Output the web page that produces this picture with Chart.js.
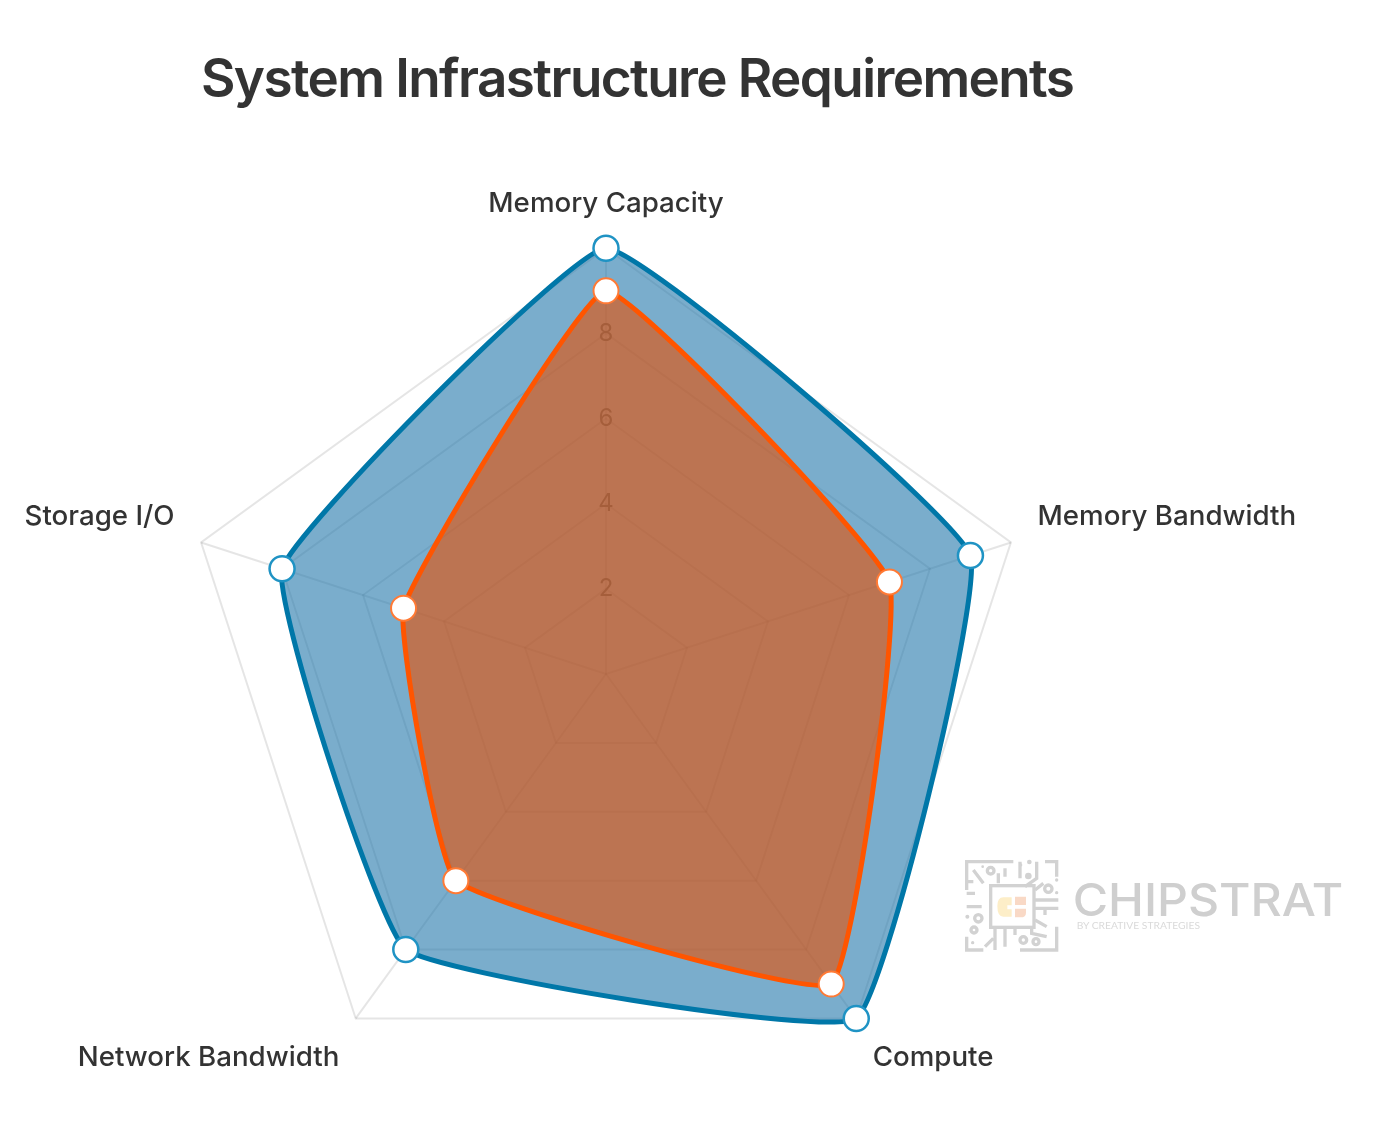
<!DOCTYPE html>
<html>
<head>
<meta charset="utf-8">
<title>System Infrastructure Requirements</title>
<script src="https://cdn.jsdelivr.net/npm/chart.js@4"></script>
<style>
  html, body { margin: 0; padding: 0; background: #fff; }
  #wrap { position: relative; width: 1374px; height: 1126px; overflow: hidden; }
  #chart { position: absolute; left: -394px; top: 0; }
  h1 {
    position: absolute; left: 201px; top: 46px; margin: 0;
    font: 600 53px/64px Inter, sans-serif; letter-spacing: -1.6px; color: #333; white-space: nowrap;
  }
  #mark { position: absolute; left: 950px; top: 840px; }
</style>
</head>
<body>
<div id="wrap">
  <canvas id="chart" width="2000" height="1200"></canvas>
  <h1>System Infrastructure Requirements</h1>
  <svg id="mark" width="410" height="130" viewBox="0 0 1230 390">
    <g fill="none" stroke="#d2d2d2" stroke-width="10">
      <rect x="122" y="137" width="130" height="125"/>
      <path d="M50 150V65H190M210 65V115M260 65V115L225 140M285 65H320V110M50 200H95M50 125H70M50 160H75M255 150L280 130M255 180H325M255 205H325M285 205V225M255 240L290 260M50 290V330H100M130 295L105 320M135 265V330M165 265V320M195 265V285M245 265V280L290 290M210 330H320V260M70 90L100 130M145 100V130M165 85V110"/>
      <circle cx="122" cy="92" r="10"/>
      <circle cx="295" cy="146" r="11"/>
      <circle cx="85" cy="235" r="11"/>
      <circle cx="72" cy="270" r="9"/>
      <circle cx="220" cy="300" r="10"/>
      <circle cx="258" cy="305" r="9"/>
    </g>
    <g fill="#d2d2d2">
      <circle cx="235" cy="108" r="10"/>
      <circle cx="238" cy="66" r="7"/>
      <circle cx="212" cy="75" r="5"/>
      <circle cx="320" cy="120" r="5"/>
      <circle cx="320" cy="158" r="5"/>
      <circle cx="52" cy="230" r="6"/>
      <circle cx="68" cy="308" r="5"/>
      <circle cx="98" cy="80" r="4"/>
    </g>
    <path d="M185 172H160Q142 172 142 198Q142 230 160 230H185V208H172V196H185Z" fill="#fdeec8"/>
    <path d="M195 170H228V195H195ZM195 206H228V218Q228 232 212 232H195Z" fill="#f9d9c6"/>
    <text x="368" y="228" font-family="Inter, sans-serif" font-weight="500" font-size="136" fill="#cfcfcf" textLength="812" lengthAdjust="spacingAndGlyphs">CHIPSTRAT</text>
    <text x="380" y="266" font-family="Lato, sans-serif" font-size="28" fill="#dadada" textLength="370" lengthAdjust="spacingAndGlyphs">BY CREATIVE STRATEGIES</text>
  </svg>
</div>
<script>
const categories = ["Memory Capacity", "Memory Bandwidth", "Compute", "Network Bandwidth", "Storage I/O"];
const trainingValues = [10, 9, 10, 8, 8];
const inferenceValues = [9, 7, 9, 6, 5];

const ctx = document.getElementById("chart").getContext("2d");

// radar draws the first dataset last, so the orange one goes first to sit on top
new Chart(ctx, {
  type: "radar",
  data: {
    labels: categories,
    datasets: [
      {
        label: "Inference",
        data: inferenceValues,
        borderColor: "#ff5500",
        backgroundColor: "rgba(232,79,0,0.6)",
        borderWidth: 5,
        tension: 0.1,
        fill: true,
        pointRadius: 12.5,
        pointBorderWidth: 2,
        pointBackgroundColor: "#fff",
        pointBorderColor: "#ff7a35",
      },
      {
        label: "Training",
        data: trainingValues,
        borderColor: "#0077a8",
        backgroundColor: "rgba(33,119,170,0.6)",
        borderWidth: 5,
        tension: 0.1,
        fill: true,
        pointRadius: 12.5,
        pointBorderWidth: 2.5,
        pointBackgroundColor: "#fff",
        pointBorderColor: "#1f93c4",
      },
    ],
  },
  options: {
    responsive: false,
    animation: false,
    devicePixelRatio: 1,
    layout: { padding: { top: 164, bottom: 62 } },
    plugins: { legend: { display: false }, tooltip: { enabled: false } },
    scales: {
      r: {
        min: 0,
        max: 10,
        ticks: {
          stepSize: 2,
          color: "#777",
          showLabelBackdrop: false,
          font: { family: "Inter", size: 24 },
        },
        grid: { color: "rgba(0,0,0,0.1)", lineWidth: 2 },
        angleLines: { color: "rgba(0,0,0,0.1)", lineWidth: 2 },
        pointLabels: {
          padding: 14,
          color: "#333",
          font: { family: "Inter", size: 27.7, weight: "500" },
        },
      },
    },
  },
});
</script>
</body>
</html>
